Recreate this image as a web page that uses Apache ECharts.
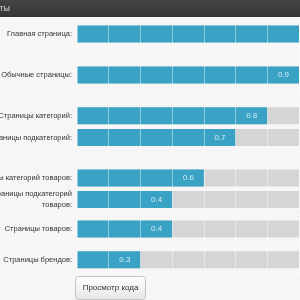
<!DOCTYPE html>
<html>
<head>
<meta charset="utf-8">
<script src="https://cdn.jsdelivr.net/npm/echarts@6/dist/echarts.min.js"></script>
<style>
html,body{margin:0;padding:0;background:#f6f6f6;}
#chart{width:300px;height:300px;}
</style>
</head>
<body>
<div id="chart"></div>
<script>
// ---- data ----
const categories = [
  'Главная страница:',
  'Обычные страницы:',
  'Страницы категорий:',
  'Страницы подкатегорий:',
  'Страницы категорий товаров:',
  'Страницы подкатегорий\nтоваров:',
  'Страницы товаров:',
  'Страницы брендов:'
];
const priorityLabels = ['1.0', '0.9', '0.8', '0.7', '0.6', '0.4', '0.4', '0.3'];
const fillSteps = [8, 7, 6, 5, 4, 3, 3, 2];   // filled slider cells
const visibleSteps = 7;                        // cells visible in the cropped view

// ---- layout: rows are drawn in four groups (one grid each) ----
const groupRows = [[0, 1], [2, 3], [4, 5], [6, 7]];
const groupTop = [13.5, 104.8, 167.25, 213.65];
const groupBand = [41, 21.8, 21.5, 30.7];

const FONT = 'Liberation Sans, Arial, sans-serif';
const grids = [], xAxes = [], yAxes = [], series = [];
groupRows.forEach((rows, g) => {
  const h = groupBand[g] * rows.length;
  grids.push({left: 77, right: 1, top: groupTop[g], height: h, containLabel: false, outerBoundsMode: 'none'});
  xAxes.push({
    type: 'value', gridIndex: g, min: 0, max: visibleSteps, interval: 1, z: 10,
    axisLine: {show: false}, axisTick: {show: false}, axisLabel: {show: false},
    splitLine: {show: true, lineStyle: {color: 'rgba(255,255,255,0.45)', width: 1}}
  });
  yAxes.push({
    type: 'category', gridIndex: g, inverse: true,
    data: rows.map(i => categories[i]),
    axisLine: {show: false}, axisTick: {show: false}, splitLine: {show: false},
    axisLabel: {interval: 0, margin: 5, color: '#333', fontSize: 7.5, fontFamily: FONT, lineHeight: 11, align: 'right'}
  });
  series.push({
    type: 'bar', xAxisIndex: g, yAxisIndex: g, barWidth: 17, barGap: '-100%', silent: true,
    data: rows.map(() => visibleSteps), itemStyle: {color: '#d5d5d5'}, z: 1
  });
  series.push({
    type: 'bar', xAxisIndex: g, yAxisIndex: g, barWidth: 17, barGap: '-100%', z: 2,
    data: rows.map(i => fillSteps[i]), itemStyle: {color: '#3aa2c4'},
    label: {
      show: true, position: 'insideRight', distance: 10,
      color: '#d6edf5', fontSize: 8, fontFamily: FONT,
      formatter: p => {
        const i = rows[p.dataIndex];
        return fillSteps[i] <= visibleSteps ? priorityLabels[i] : '';
      }
    }
  });
});

const chart = echarts.init(document.getElementById('chart'), null, {renderer: 'canvas'});
chart.setOption({
  backgroundColor: '#f6f6f6',
  animation: false,
  grid: grids, xAxis: xAxes, yAxis: yAxes, series: series,
  graphic: [
    {type: 'rect', shape: {x: 0, y: 0, width: 300, height: 17},
     style: {fill: new echarts.graphic.LinearGradient(0, 0, 0, 1, [{offset: 0, color: '#454545'}, {offset: 1, color: '#353535'}])}, z: 100},
    {type: 'text', x: 10, y: 9, z: 101,
     style: {text: 'Приоритеты', align: 'right', verticalAlign: 'middle', fill: '#d8d8d8', fontSize: 9, fontFamily: FONT}},
    {type: 'rect', shape: {x: 75.5, y: 276.5, width: 70, height: 23, r: 3}, z: 100,
     style: {fill: new echarts.graphic.LinearGradient(0, 0, 0, 1, [{offset: 0, color: '#ffffff'}, {offset: 1, color: '#e6e6e6'}]), stroke: '#c2c2c2', lineWidth: 1}},
    {type: 'text', x: 110.5, y: 288, z: 101,
     style: {text: 'Просмотр кода', align: 'center', verticalAlign: 'middle', fill: '#333', fontSize: 8, fontFamily: FONT}}
  ]
});
</script>
</body>
</html>
